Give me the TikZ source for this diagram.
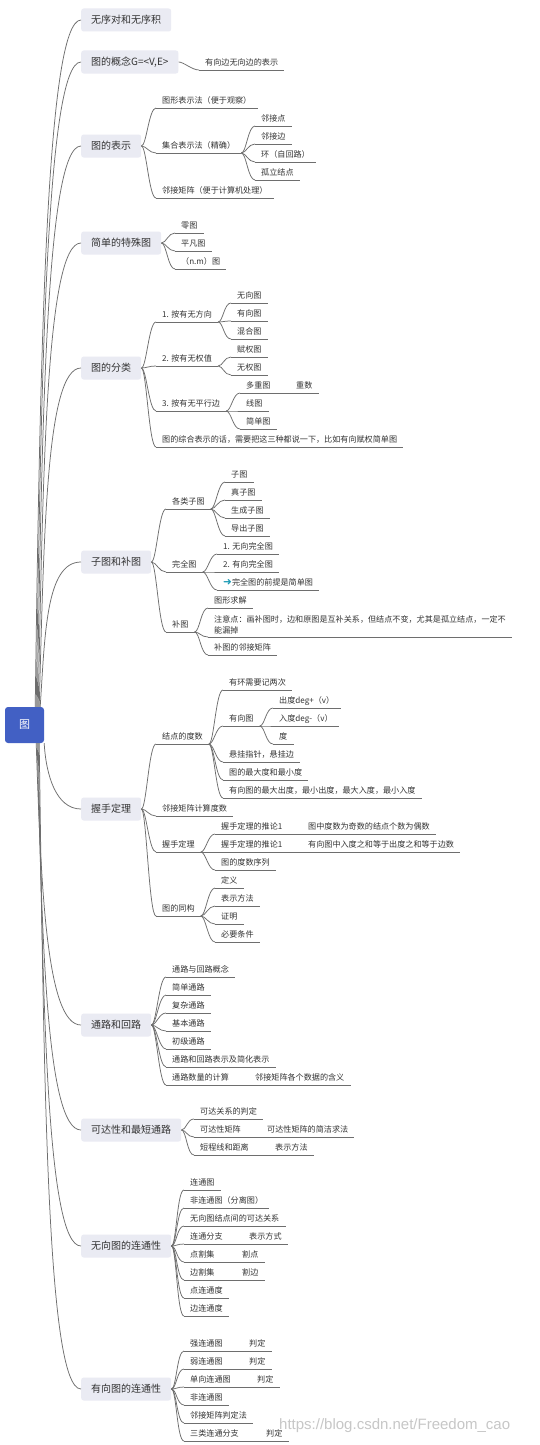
\documentclass[tikz,border=0pt]{standalone}
\usepackage{fontspec}
\setmainfont{Noto Sans CJK SC}
\newfontfamily\dejavu{DejaVu Sans}
\newfontfamily\wmfont{Liberation Sans}
\definecolor{rootc}{HTML}{4260C4}
\definecolor{boxc}{HTML}{EAEBF3}
\definecolor{txt}{HTML}{333333}
\definecolor{lc}{HTML}{6E6E6E}
\definecolor{arrowc}{HTML}{1C9BB5}
\tikzset{
  conn/.style={draw=lc, line width=0.75pt},
  rootbox/.style={fill=rootc, rounded corners=3pt, minimum width=39pt, minimum height=36pt, inner sep=0pt, text=white, font=\fontsize{11}{13}\selectfont},
  topicbox/.style={anchor=west, fill=boxc, rounded corners=2.5pt, inner xsep=10pt, inner ysep=0pt, minimum height=23pt, text=txt, font=\fontsize{10}{12}\selectfont},
  leafnode/.style={anchor=south west, inner xsep=6pt, inner ysep=2.5pt, text height=6.5pt, text depth=1.5pt, text=txt, font=\fontsize{8.1}{10}\selectfont},
  leafml/.style={anchor=south west, inner xsep=6pt, inner ysep=2.5pt, align=left, text=txt, font=\fontsize{8.1}{11}\selectfont},
}
% leaf: name, x, y(underline), text
\newcommand\lf[4]{\node[leafnode] (#1) at (#2,#3) {#4};\draw[conn] (#1.south west) -- (#1.south east);}
% inline continuation: parent, name, x, y, text
\newcommand\lfc[5]{\lf{#2}{#3}{#4}{#5}\draw[conn] (#1.south east) -- (#2.south west);}
% curved link from a point to a leaf
\newcommand\lk[2]{\draw[conn] (#1) .. controls +(5,0) and +(-7,0) .. (#2.south west);}
\begin{document}
\begin{tikzpicture}[x=1pt,y=-1pt]
\fill[white] (0,0) rectangle (540,1445);
\useasboundingbox (0,0) rectangle (540,1445);

% root
\node[rootbox] (root) at (24.5,725) {图};

% level 1
\node[topicbox] (b1) at (81,20) {无序对和无序积};
\node[topicbox] (b2) at (81,62) {图的概念G=<V,E>};
\node[topicbox] (b3) at (81,146) {图的表示};
\node[topicbox] (b4) at (81,243) {简单的特殊图};
\node[topicbox] (b5) at (81,368) {图的分类};
\node[topicbox] (b6) at (81,562) {子图和补图};
\node[topicbox] (b7) at (81,809) {握手定理};
\node[topicbox] (b8) at (81,1025) {通路和回路};
\node[topicbox] (b9) at (81,1130) {可达性和最短通路};
\node[topicbox] (b10) at (81,1246) {无向图的连通性};
\node[topicbox] (b11) at (81,1389) {有向图的连通性};

% root connectors
\draw[conn] ([xshift=-9pt]root.north east) .. controls (40,363) and (46,20) .. (b1.west);
\draw[conn] ([xshift=-8pt]root.north east) .. controls (41,384) and (46,62) .. (b2.west);
\draw[conn] ([xshift=-7pt]root.north east) .. controls (42,426) and (46,146) .. (b3.west);
\draw[conn] ([xshift=-6pt]root.north east) .. controls (43,475) and (46,243) .. (b4.west);
\draw[conn] ([xshift=-5pt]root.north east) .. controls (44,537) and (46,368) .. (b5.west);
\draw[conn] ([xshift=-4pt]root.north east) .. controls (45,634) and (46,562) .. (b6.west);
\draw[conn] (root.south east) .. controls (46,775) and (56,809) .. (b7.west);
\draw[conn] ([xshift=-8pt]root.south east) .. controls (41,884) and (46,1025) .. (b8.west);
\draw[conn] ([xshift=-7pt]root.south east) .. controls (42,936) and (46,1130) .. (b9.west);
\draw[conn] ([xshift=-6pt]root.south east) .. controls (43,994) and (46,1246) .. (b10.west);
\draw[conn] ([xshift=-5pt]root.south east) .. controls (44,1066) and (46,1389) .. (b11.west);

% 2
\lf{n2a}{199}{70}{有向边无向边的表示}
\lk{b2.east}{n2a}

% 3
\lf{n3a}{156}{108}{图形表示法（便于观察）}
\lf{n3b}{156}{153}{集合表示法（精确）}
\lf{n3c}{156}{198}{邻接矩阵（便于计算机处理）}
\foreach \n in {n3a,n3b,n3c} {\lk{b3.east}{\n}}
\lf{n3b1}{255}{126}{邻接点}
\lf{n3b2}{255}{144}{邻接边}
\lf{n3b3}{255}{162}{环（自回路）}
\lf{n3b4}{255}{180}{孤立结点}
\foreach \n in {n3b1,n3b2,n3b3,n3b4} {\lk{n3b.south east}{\n}}

% 4
\lf{n4a}{175}{233}{零图}
\lf{n4b}{175}{251}{平凡图}
\lf{n4c}{175}{269}{（n.m）图}
\foreach \n in {n4a,n4b,n4c} {\lk{b4.east}{\n}}

% 5
\lf{n5a}{156}{322}{1. 按有无方向}
\lf{n5b}{156}{366}{2. 按有无权值}
\lf{n5c}{156}{411}{3. 按有无平行边}
\lf{n5d}{156}{447}{图的综合表示的话，需要把这三种都说一下，比如有向赋权简单图}
\foreach \n in {n5a,n5b,n5c,n5d} {\lk{b5.east}{\n}}
\lf{n5a1}{231}{303}{无向图}
\lf{n5a2}{231}{321}{有向图}
\lf{n5a3}{231}{339}{混合图}
\foreach \n in {n5a1,n5a2,n5a3} {\lk{n5a.south east}{\n}}
\lf{n5b1}{231}{357}{赋权图}
\lf{n5b2}{231}{375}{无权图}
\foreach \n in {n5b1,n5b2} {\lk{n5b.south east}{\n}}
\lf{n5c1}{240}{393}{多重图}
\lfc{n5c1}{n5c1a}{290}{393}{重数}
\lf{n5c2}{240}{411}{线图}
\lf{n5c3}{240}{429}{简单图}
\foreach \n in {n5c1,n5c2,n5c3} {\lk{n5c.south east}{\n}}

% 6
\lf{n6a}{166}{509}{各类子图}
\lf{n6b}{166}{572}{完全图}
\lf{n6c}{166}{632}{补图}
\foreach \n in {n6a,n6b,n6c} {\lk{b6.east}{\n}}
\lf{n6a1}{225}{482}{子图}
\lf{n6a2}{225}{500}{真子图}
\lf{n6a3}{225}{518}{生成子图}
\lf{n6a4}{225}{536}{导出子图}
\foreach \n in {n6a1,n6a2,n6a3,n6a4} {\lk{n6a.south east}{\n}}
\lf{n6b1}{217}{554}{1. 无向完全图}
\lf{n6b2}{217}{572}{2. 有向完全图}
\lf{n6b3}{217}{590}{{\dejavu\fontsize{10.5}{10}\selectfont\color{arrowc}➜}完全图的前提是简单图}
\foreach \n in {n6b1,n6b2,n6b3} {\lk{n6b.south east}{\n}}
\lf{n6c1}{208}{608}{图形求解}
\node[leafml] (n6c2) at (208,637) {注意点：画补图时，边和原图是互补关系，但结点不变，尤其是孤立结点，一定不\\能漏掉};
\draw[conn] (n6c2.south west) -- (n6c2.south east);
\lf{n6c3}{208}{655}{补图的邻接矩阵}
\foreach \n in {n6c1,n6c2,n6c3} {\lk{n6c.south east}{\n}}

% 7
\lf{n7a}{156}{744}{结点的度数}
\lf{n7b}{156}{816}{邻接矩阵计算度数}
\lf{n7c}{156}{852}{握手定理}
\lf{n7d}{156}{916}{图的同构}
\foreach \n in {n7a,n7b,n7c,n7d} {\lk{b7.east}{\n}}
\lf{n7a1}{223}{690}{有环需要记两次}
\lf{n7a2}{223}{726}{有向图}
\lf{n7a3}{223}{762}{悬挂指针，悬挂边}
\lf{n7a4}{223}{780}{图的最大度和最小度}
\lf{n7a5}{223}{798}{有向图的最大出度，最小出度，最大入度，最小入度}
\foreach \n in {n7a1,n7a2,n7a3,n7a4,n7a5} {\lk{n7a.south east}{\n}}
\lf{n7a2a}{273}{708}{出度deg+（v）}
\lf{n7a2b}{273}{726}{入度deg-（v）}
\lf{n7a2c}{273}{744}{度}
\foreach \n in {n7a2a,n7a2b,n7a2c} {\lk{n7a2.south east}{\n}}
\lf{n7c1}{215}{834}{握手定理的推论1}
\lfc{n7c1}{n7c1a}{302}{834}{图中度数为奇数的结点个数为偶数}
\lf{n7c2}{215}{852}{握手定理的推论1}
\lfc{n7c2}{n7c2a}{302}{852}{有向图中入度之和等于出度之和等于边数}
\lf{n7c3}{215}{870}{图的度数序列}
\foreach \n in {n7c1,n7c2,n7c3} {\lk{n7c.south east}{\n}}
\lf{n7d1}{215}{888}{定义}
\lf{n7d2}{215}{906}{表示方法}
\lf{n7d3}{215}{924}{证明}
\lf{n7d4}{215}{942}{必要条件}
\foreach \n in {n7d1,n7d2,n7d3,n7d4} {\lk{n7d.south east}{\n}}

% 8
\lf{n8a}{166}{977}{通路与回路概念}
\lf{n8b}{166}{995}{简单通路}
\lf{n8c}{166}{1013}{复杂通路}
\lf{n8d}{166}{1031}{基本通路}
\lf{n8e}{166}{1049}{初级通路}
\lf{n8f}{166}{1067}{通路和回路表示及简化表示}
\lf{n8g}{166}{1085}{通路数量的计算}
\lfc{n8g}{n8g1}{249}{1085}{邻接矩阵各个数据的含义}
\foreach \n in {n8a,n8b,n8c,n8d,n8e,n8f,n8g} {\lk{b8.east}{\n}}

% 9
\lf{n9a}{194}{1119}{可达关系的判定}
\lf{n9b}{194}{1137}{可达性矩阵}
\lfc{n9b}{n9b1}{261}{1137}{可达性矩阵的简洁求法}
\lf{n9c}{194}{1155}{短程线和距离}
\lfc{n9c}{n9c1}{269}{1155}{表示方法}
\foreach \n in {n9a,n9b,n9c} {\lk{b9.east}{\n}}

% 10
\lf{n10a}{184}{1190}{连通图}
\lf{n10b}{184}{1208}{非连通图（分离图）}
\lf{n10c}{184}{1226}{无向图结点间的可达关系}
\lf{n10d}{184}{1244}{连通分支}
\lfc{n10d}{n10d1}{243}{1244}{表示方式}
\lf{n10e}{184}{1262}{点割集}
\lfc{n10e}{n10e1}{236}{1262}{割点}
\lf{n10f}{184}{1280}{边割集}
\lfc{n10f}{n10f1}{236}{1280}{割边}
\lf{n10g}{184}{1298}{点连通度}
\lf{n10h}{184}{1316}{边连通度}
\foreach \n in {n10a,n10b,n10c,n10d,n10e,n10f,n10g,n10h} {\lk{b10.east}{\n}}

% 11
\lf{n11a}{184}{1351}{强连通图}
\lfc{n11a}{n11a1}{243}{1351}{判定}
\lf{n11b}{184}{1369}{弱连通图}
\lfc{n11b}{n11b1}{243}{1369}{判定}
\lf{n11c}{184}{1387}{单向连通图}
\lfc{n11c}{n11c1}{251}{1387}{判定}
\lf{n11d}{184}{1405}{非连通图}
\lf{n11e}{184}{1423}{邻接矩阵判定法}
\lf{n11f}{184}{1441}{三类连通分支}
\lfc{n11f}{n11f1}{260}{1441}{判定}
\foreach \n in {n11a,n11b,n11c,n11d,n11e,n11f} {\lk{b11.east}{\n}}

% watermark
\node[anchor=west, inner sep=0pt, text=black!22, font=\wmfont\fontsize{15}{17}\selectfont] (wm) at (279,1426) {https://blog.csdn.net/Freedom\_cao};
\end{tikzpicture}
\end{document}
